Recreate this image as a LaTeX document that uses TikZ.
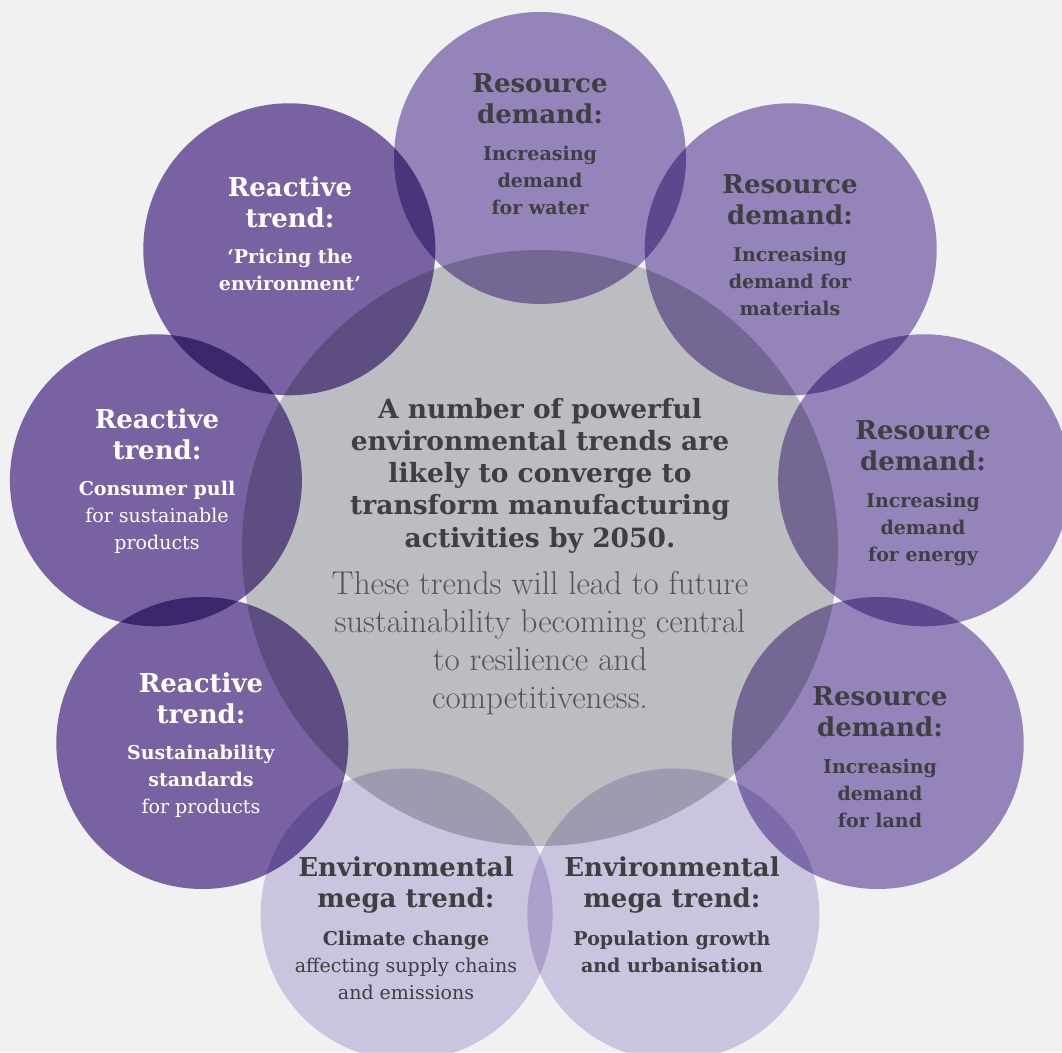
\documentclass[tikz,border=0pt]{standalone}
\usepackage{fontspec}
\newfontfamily\slab{DejaVu Serif}
\usetikzlibrary{positioning}
\definecolor{trendbg}{HTML}{F1F1F1}
\definecolor{trendreact}{HTML}{7F68AB}
\definecolor{trendres}{HTML}{9E8CC4}
\definecolor{trendenv}{HTML}{D7D0EB}
\definecolor{trendcore}{HTML}{C7C8CC}
\definecolor{trendtext}{HTML}{3F3F42}
\definecolor{trendlight}{HTML}{555558}

\begin{document}
\begin{tikzpicture}[
    x=1pt, y=1pt,
    disc/.style={circle, inner sep=0pt, minimum size=292pt, blend mode=multiply},
    react/.style={disc, fill=trendreact},
    res/.style={disc, fill=trendres},
    env/.style={disc, fill=trendenv},
    head/.style={align=center, inner sep=0pt, anchor=north, text=trendtext,
                 font=\slab\bfseries\fontsize{26}{31}\selectfont},
    body/.style={align=center, inner sep=0pt, text=trendtext,
                 font=\slab\fontsize{19}{27}\selectfont},
    boldbody/.style={body, font=\slab\bfseries\fontsize{19}{27}\selectfont},
    whitehead/.style={head, text=white},
    whitebody/.style={body, text=white}]

  \useasboundingbox (0,0) rectangle (1062,1052);
  \fill[trendbg] (0,0) rectangle (1062,1052);

  % ---- circles ----
  \node[disc, fill=trendcore, minimum size=596pt] (core) at (540,504) {};
  \node[res]   (water)  at (540.0,894.0) {};
  \node[res]   (mater)  at (790.7,802.7) {};
  \node[res]   (energy) at (924.1,571.7) {};
  \node[res]   (land)   at (877.7,309.0) {};
  \node[env]   (popul)  at (673.4,137.5) {};
  \node[env]   (climate) at (406.6,137.5) {};
  \node[react] (stand)  at (202.3,309.0) {};
  \node[react] (pull)   at (155.9,571.7) {};
  \node[react] (price)  at (289.3,802.7) {};

  % ---- resource demand (right) ----
  \node[head] (waterH) at (540,979) {Resource\\demand:};
  \node[boldbody, below=22pt of waterH] (waterB) {Increasing\\demand\\for water};
  \node[head] (materH) at (790,878) {Resource\\demand:};
  \node[boldbody, below=22pt of materH] (materB) {Increasing\\demand for\\materials};
  \node[head] (energyH) at (923,632) {Resource\\demand:};
  \node[boldbody, below=22pt of energyH] (energyB) {Increasing\\demand\\for energy};
  \node[head] (landH) at (880,366) {Resource\\demand:};
  \node[boldbody, below=22pt of landH] (landB) {Increasing\\demand\\for land};

  % ---- environmental mega trends (bottom) ----
  \node[head] (populH) at (672,195) {Environmental\\mega trend:};
  \node[boldbody, below=17pt of populH] (populB) {Population growth\\and urbanisation};
  \node[head] (climateH) at (406,195) {Environmental\\mega trend:};
  \node[body, below=17pt of climateH]
        (climateB) {\textbf{Climate change}\\affecting supply chains\\and emissions};

  % ---- reactive trends (left) ----
  \node[whitehead] (standH) at (201,379) {Reactive\\trend:};
  \node[whitebody, below=20pt of standH]
        (standB) {\textbf{Sustainability}\\\textbf{standards}\\for products};
  \node[whitehead] (pullH) at (157,643) {Reactive\\trend:};
  \node[whitebody, below=20pt of pullH]
        (pullB) {\textbf{Consumer pull}\\for sustainable\\products};
  \node[whitehead] (priceH) at (290,875) {Reactive\\trend:};
  \node[whitebody, font=\slab\bfseries\fontsize{19}{27}\selectfont, below=20pt of priceH]
        (priceB) {‘Pricing the\\environment’};

  % ---- centre statement ----
  \node[head, font=\slab\bfseries\fontsize{26.5}{32.2}\selectfont] (coreH) at (540,654)
        {A number of powerful\\environmental trends are\\likely to converge to\\transform manufacturing\\activities by 2050.};
  \node[body, text=trendlight, font=\fontsize{33}{38}\selectfont, below=18pt of coreH]
        (coreB) {These trends will lead to future\\sustainability becoming central\\to resilience and\\competitiveness.};
\end{tikzpicture}
\end{document}
